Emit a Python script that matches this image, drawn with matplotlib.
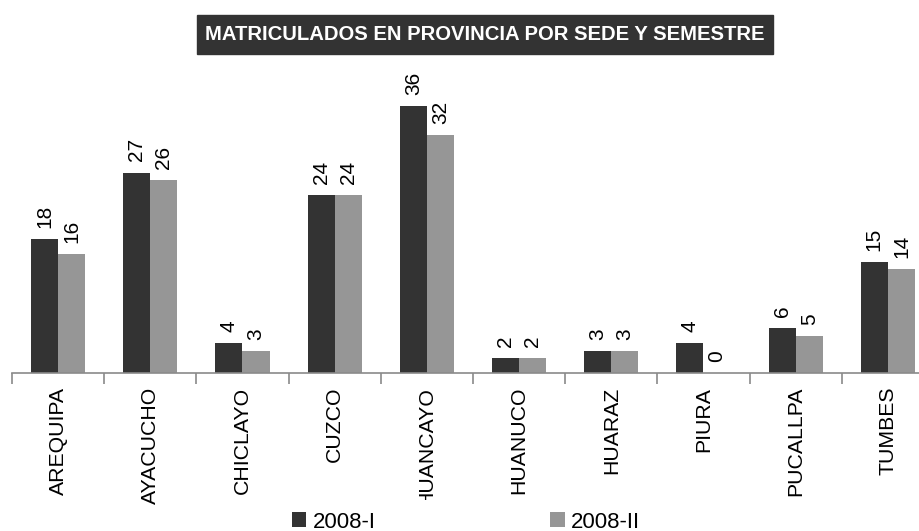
import numpy as np
import matplotlib.pyplot as plt
from matplotlib.patches import Rectangle
from matplotlib.transforms import Bbox

plt.rcParams['font.family'] = ['Liberation Sans', 'DejaVu Sans']

sedes = ['AREQUIPA', 'AYACUCHO', 'CHICLAYO', 'CUZCO', 'HUANCAYO',
         'HUANUCO', 'HUARAZ', 'PIURA', 'PUCALLPA', 'TUMBES']
sem_1 = [18, 27, 4, 24, 36, 2, 3, 4, 6, 15]
sem_2 = [16, 26, 3, 24, 32, 2, 3, 0, 5, 14]
series = ['2008-I', '2008-II']

c_dark = '#333333'
c_light = '#969696'
c_axis = '#8a8a8a'

fig = plt.figure(figsize=(9.2, 5.31), dpi=100)
ax = fig.add_axes([12 / 920, 1 - 373 / 531, 922 / 920, (373 - 76) / 531])

x = np.arange(len(sedes))
w = 0.295
b1 = ax.bar(x - w / 2, sem_1, w, color=c_dark, label=series[0])
b2 = ax.bar(x + w / 2, sem_2, w, color=c_light, label=series[1])

for bars in (b1, b2):
    for r in bars:
        v = r.get_height()
        ax.annotate(str(int(v)), (r.get_x() + r.get_width() / 2, v),
                    xytext=(0, 8), textcoords='offset points',
                    rotation=90, ha='center', va='bottom', fontsize=15)

ax.set_xlim(-0.5, len(sedes) - 0.5)
ax.set_ylim(0, 40)

for s in ['top', 'right', 'left']:
    ax.spines[s].set_visible(False)
ax.spines['bottom'].set_color(c_axis)
ax.spines['bottom'].set_linewidth(1.2)
ax.set_yticks([])

ax.set_xticks(x)
ax.set_xticklabels(sedes, rotation=90, fontsize=15.3, va='top')
ax.tick_params(axis='x', length=0, pad=10)
ax.set_xticks(np.arange(len(sedes) + 1) - 0.5, minor=True)
ax.tick_params(axis='x', which='minor', length=8, width=1.2, color=c_axis,
               direction='out')

# HUANCAYO runs past the bottom edge of the label area
clip = Bbox.from_extents(0, 531 - 500, 920, 531)
lbl = ax.get_xticklabels()[sedes.index('HUANCAYO')]
lbl.set_clip_box(clip)
lbl.set_clip_on(True)

# title box
fig.patches.append(Rectangle((197 / 920, 1 - 54 / 531), 576 / 920, 39 / 531,
                             transform=fig.transFigure, color='#333333',
                             zorder=0))
fig.text(485 / 920, 1 - 34 / 531, 'MATRICULADOS EN PROVINCIA POR SEDE Y SEMESTRE',
         ha='center', va='center', color='white', fontsize=14.6,
         fontweight='bold')

fig.legend(handles=[b1, b2], loc='center', bbox_to_anchor=(466 / 920, 1 - 522 / 531),
           ncol=2, frameon=False, fontsize=16, handlelength=0.65,
           handleheight=0.65, handletextpad=0.3, columnspacing=7.85)

fig.savefig('out.png', dpi=100)
